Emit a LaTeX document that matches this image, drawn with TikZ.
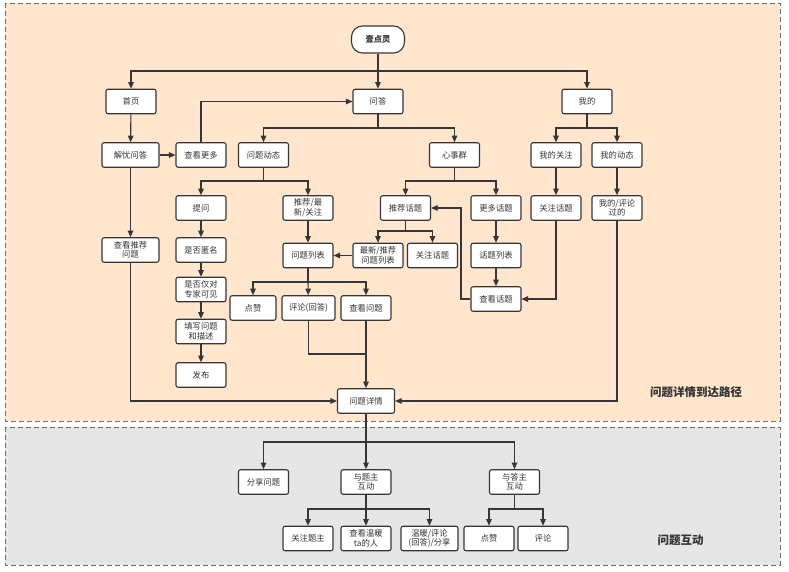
\documentclass[tikz,border=0pt]{standalone}
\usepackage{fontspec}
\setmainfont{Noto Sans CJK SC}
\usetikzlibrary{arrows.meta}
\definecolor{peach}{HTML}{FFE6CC}
\definecolor{grayarea}{HTML}{E6E6E6}
\definecolor{linec}{HTML}{363636}
\definecolor{textc}{HTML}{333333}
\definecolor{dashc}{HTML}{6E6E6E}
\begin{document}
\begin{tikzpicture}[x=1pt,y=-1pt,
		box/.style={draw=linec, fill=white, rounded corners=2pt, line width=1.1pt, minimum width=50pt, minimum height=24.5pt, inner sep=1pt, align=center, text=textc, font=\fontsize{8.3}{9.5}\selectfont},
		wbox/.style={box, minimum width=57pt},
		arr/.style={draw=linec, line width=1.1pt, -{Triangle[length=6.5pt,width=5.5pt]}},
		line/.style={draw=linec, line width=1.1pt},
		area/.style={draw=dashc, line width=0.9pt, dash pattern=on 5pt off 3pt},
		caption/.style={text=textc, font=\fontsize{11.5}{13}\selectfont\bfseries}]
		\useasboundingbox (0,0) rectangle (789,572);
		% Bereiche
		\filldraw [area, fill=peach] (5,3) rectangle (780,421);
		\filldraw [area, fill=grayarea] (5,427) rectangle (780,565);
		\node[caption] (capPath) at (696,392) {问题详情到达路径};
		\node[caption] (capAct) at (680.5,540) {问题互动};
		% Start
		\node[box, rounded corners=11pt, minimum width=53pt, minimum height=27pt, font=\fontsize{8.3}{9.5}\selectfont\bfseries] (start) at (378,39.5) {壹点灵};
		% Ebene 1
		\node[box] (home) at (131,101.5) {首页};
		\node[box] (qa) at (378,101.5) {问答};
		\node[box] (mine) at (587,101.5) {我的};
		% Ebene 2
		\node[wbox] (jieyou) at (130.5,155) {解忧问答};
		\node[box] (more) at (201,155) {查看更多};
		\node[box] (qdyn) at (263.5,155) {问题动态};
		\node[box] (circle) at (454.5,155) {心事群};
		\node[box] (myfollow) at (556,155) {我的关注};
		\node[box] (mydyn) at (617,155) {我的动态};
		% Ebene 3
		\node[box] (ask) at (201,208) {提问};
		\node[box] (recq) at (308,208) {推荐/最\\新/关注};
		\node[box] (rectopic) at (405.5,208) {推荐话题};
		\node[box] (moretopic) at (496,208) {更多话题};
		\node[box] (fltopic) at (556,208) {关注话题};
		\node[box] (mycomm) at (617,208) {我的/评论\\过的};
		% Ebene 4
		\node[wbox] (recview) at (130.5,250) {查看推荐\\问题};
		\node[box] (anon) at (201,250) {是否匿名};
		\node[box] (qlist) at (308,255.5) {问题列表};
		\node[box] (newlist) at (378,255.5) {最新/推荐\\问题列表};
		\node[box] (fltopicb) at (432.5,255.5) {关注话题};
		\node[box] (tlist) at (496,255.5) {话题列表};
		% Ebene 5
		\node[box] (expert) at (201,289.5) {是否仅对\\专家可见};
		\node[box, minimum width=46pt] (like) at (253,308) {点赞};
		\node[box, minimum width=53pt] (comment) at (308.5,308) {评论(回答)};
		\node[box] (viewq) at (366,308) {查看问题};
		\node[box] (viewt) at (496,299) {查看话题};
		\node[box] (fillq) at (201,331.5) {填写问题\\和描述};
		\node[box] (publish) at (201,375) {发布};
		\node[wbox] (detail) at (366,401) {问题详情};
		% Interaktion
		\node[box] (share) at (263.5,482) {分享问题};
		\node[box] (asker) at (366,482) {与题主\\互动};
		\node[box] (answerer) at (514.5,482) {与答主\\互动};
		\node[box] (flasker) at (308,538.5) {关注题主};
		\node[box] (warmers) at (366,538.5) {查看温暖\\ta的人};
		\node[wbox] (warm) at (429.5,538.5) {温暖/评论\\(回答)/分享};
		\node[box] (likeb) at (489,538.5) {点赞};
		\node[box] (commentb) at (543,538.5) {评论};
		% Verzweigungen
		\coordinate (jStart) at (378,71);
		\coordinate (jQa) at (378,128);
		\coordinate (jMine) at (587,128);
		\coordinate (jQdyn) at (263.5,181);
		\coordinate (jCircle) at (454.5,181);
		\coordinate (jRect) at (405.5,231);
		\coordinate (jList) at (308,282);
		\coordinate (jMerge) at (366,354);
		\coordinate (jBack) at (461,299);
		\coordinate (jDetail) at (366,442);
		\coordinate (jAsker) at (366,509);
		\coordinate (jAnswerer) at (514.5,509);
		% Verbindungen
		\draw[arr] (start) -- (qa);
		\draw[arr] (jStart) -| (home);
		\draw[arr] (jStart) -| (mine);
		\draw[line] (qa) -- (jQa);
		\draw[arr] (jQa) -| (qdyn);
		\draw[arr] (jQa) -| (circle);
		\draw[line] (mine) -- (jMine);
		\draw[arr] (jMine) -| (myfollow);
		\draw[arr] (jMine) -| (mydyn);
		\draw[line] (qdyn) -- (jQdyn);
		\draw[arr] (jQdyn) -| (ask);
		\draw[arr] (jQdyn) -| (recq);
		\draw[line] (circle) -- (jCircle);
		\draw[arr] (jCircle) -| (rectopic);
		\draw[arr] (jCircle) -| (moretopic);
		\draw[line] (rectopic) -- (jRect);
		\draw[arr] (jRect) -| (newlist);
		\draw[arr] (jRect) -| (fltopicb);
		\draw[line] (qlist) -- (jList);
		\draw[arr] (jList) -| (like);
		\draw[arr] (jList) -| (viewq);
		\draw[arr] (more) |- (qa);
		\draw[line] (comment) |- (jMerge);
		\draw[arr] (recview) |- (detail);
		\draw[arr] (mycomm) |- (detail);
		\draw[arr] (fltopic) |- (viewt);
		\draw[arr] (viewt) -- (jBack) |- (rectopic);
		\foreach \a/\b in {home/jieyou, jieyou/more, jieyou/recview, myfollow/fltopic, mydyn/mycomm,
			ask/anon, anon/expert, expert/fillq, fillq/publish, recq/qlist, newlist/qlist, jList/comment,
			moretopic/tlist, tlist/viewt, viewq/detail} {
			\draw[arr] (\a) -- (\b);
		}
		% Interaktion
		\draw[line] (detail) -- (jDetail);
		\draw[arr] (jDetail) -| (share);
		\draw[arr] (jDetail) -- (asker);
		\draw[arr] (jDetail) -| (answerer);
		\draw[line] (asker) -- (jAsker);
		\draw[arr] (jAsker) -| (flasker);
		\draw[arr] (jAsker) -- (warmers);
		\draw[arr] (jAsker) -| (warm);
		\draw[line] (answerer) -- (jAnswerer);
		\draw[arr] (jAnswerer) -| (likeb);
		\draw[arr] (jAnswerer) -| (commentb);
	\end{tikzpicture}
\end{document}
